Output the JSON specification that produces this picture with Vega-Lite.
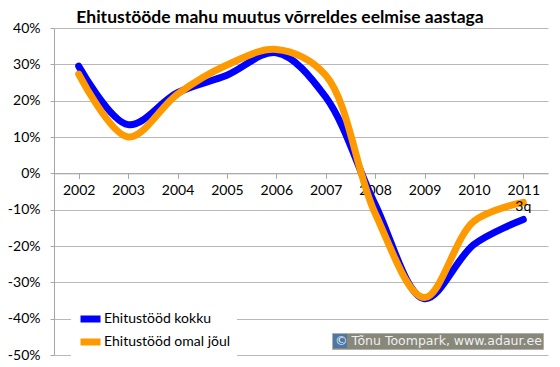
{
  "$schema": "https://vega.github.io/schema/vega-lite/v6.json",
  "width": 494,
  "height": 327,
  "autosize": "none",
  "padding": {"left": 54, "top": 28, "right": 12, "bottom": 12},
  "background": "white",
  "config": {
    "view": {"stroke": null},
    "font": "Lato"
  },
  "title": {
    "text": "Ehitustööde mahu muutus võrreldes eelmise aastaga",
    "font": "Lato",
    "fontSize": 17.5,
    "fontWeight": "bold",
    "color": "#000000",
    "anchor": "middle",
    "dx": -21,
    "dy": 9,
    "offset": 4
  },
  "layer": [
    {
      "data": {
        "values": [
          {"year": "2002", "value": 0.295, "series": "Ehitustööd kokku"},
          {"year": "2003", "value": 0.134, "series": "Ehitustööd kokku"},
          {"year": "2004", "value": 0.222, "series": "Ehitustööd kokku"},
          {"year": "2005", "value": 0.27, "series": "Ehitustööd kokku"},
          {"year": "2006", "value": 0.332, "series": "Ehitustööd kokku"},
          {"year": "2007", "value": 0.21, "series": "Ehitustööd kokku"},
          {"year": "2008", "value": -0.085, "series": "Ehitustööd kokku"},
          {"year": "2009", "value": -0.345, "series": "Ehitustööd kokku"},
          {"year": "2010", "value": -0.196, "series": "Ehitustööd kokku"},
          {"year": "2011", "value": -0.127, "series": "Ehitustööd kokku"},
          {"year": "2002", "value": 0.273, "series": "Ehitustööd omal jõul"},
          {"year": "2003", "value": 0.1, "series": "Ehitustööd omal jõul"},
          {"year": "2004", "value": 0.218, "series": "Ehitustööd omal jõul"},
          {"year": "2005", "value": 0.298, "series": "Ehitustööd omal jõul"},
          {"year": "2006", "value": 0.341, "series": "Ehitustööd omal jõul"},
          {"year": "2007", "value": 0.27, "series": "Ehitustööd omal jõul"},
          {"year": "2008", "value": -0.11, "series": "Ehitustööd omal jõul"},
          {"year": "2009", "value": -0.342, "series": "Ehitustööd omal jõul"},
          {"year": "2010", "value": -0.132, "series": "Ehitustööd omal jõul"},
          {"year": "2011", "value": -0.08, "series": "Ehitustööd omal jõul"}
        ]
      },
      "mark": {"type": "line", "interpolate": "catmull-rom", "strokeWidth": 7, "strokeCap": "round", "strokeJoin": "round"},
      "encoding": {
        "x": {
          "field": "year", "type": "ordinal",
          "scale": {"type": "point", "padding": 0.5},
          "axis": {
            "title": null,
            "offset": -181.7,
            "tickBand": "extent",
            "labelAngle": 0,
            "labelFont": "Lato",
            "labelFontSize": 14,
            "labelColor": "#000000",
            "labelPadding": 5,
            "domainColor": "#a6a6a6",
            "tickColor": "#a6a6a6",
            "tickSize": 5,
            "grid": false
          }
        },
        "y": {
          "field": "value", "type": "quantitative",
          "scale": {"domain": [-0.5, 0.4], "nice": false, "zero": false},
          "axis": {
            "title": null,
            "format": ".0%",
            "labelExpr": "replace(datum.label, '−', '-')",
            "values": [-0.5, -0.4, -0.3, -0.2, -0.1, 0, 0.1, 0.2, 0.3, 0.4],
            "tickCount": 20,
            "labelOverlap": false,
            "labelFont": "Lato",
            "labelFontSize": 14,
            "labelColor": "#000000",
            "labelPadding": 10,
            "domainColor": "#a6a6a6",
            "tickColor": "#a6a6a6",
            "tickSize": 4,
            "grid": true,
            "gridColor": "#b8b8b8",
            "gridWidth": 1
          }
        },
        "color": {
          "field": "series", "type": "nominal",
          "scale": {"domain": ["Ehitustööd kokku", "Ehitustööd omal jõul"], "range": ["#0000ff", "#ff9900"]},
          "legend": {
            "title": null,
            "orient": "none",
            "legendX": 17,
            "legendY": 275,
            "fillColor": "white",
            "padding": 6,
            "symbolType": "stroke",
            "symbolStrokeWidth": 7,
            "symbolSize": 400,
            "clipHeight": 20,
            "labelFont": "Lato",
            "labelFontSize": 14,
            "labelColor": "#000000",
            "labelOffset": 0,
            "rowPadding": 3,
            "symbolOffset": 0
          }
        }
      }
    },
    {
      "data": {"values": [{"year": "2011", "value": -0.094, "label": "3q"}]},
      "mark": {"type": "text", "font": "Lato", "fontSize": 14, "color": "#000000", "dx": 0},
      "encoding": {
        "x": {"field": "year", "type": "ordinal"},
        "y": {"field": "value", "type": "quantitative"},
        "text": {"field": "label"}
      }
    },
    {
      "data": {"values": [{"note": "© Tõnu Toompark, www.adaur.ee"}]},
      "mark": {"type": "point", "filled": true},
      "encoding": {
        "shape": {
          "field": "note", "type": "nominal",
          "scale": {"range": ["square"]},
          "legend": {
            "title": null,
            "orient": "none",
            "legendX": 278,
            "legendY": 305,
            "fillColor": "#87877a",
            "strokeColor": "#b0b0a8",
            "padding": 1,
            "symbolSize": 196,
            "symbolFillColor": "#f26a1b",
            "symbolStrokeColor": "#f26a1b",
            "symbolOpacity": 1,
            "symbolStrokeWidth": 0,
            "labelFont": "DejaVu Sans",
            "labelFontSize": 12.5,
            "labelLimit": 400,
            "labelColor": "#f0f0f0",
            "labelOffset": -12,
            "symbolOffset": 0
          }
        },
        "opacity": {"value": 0}
      }
    }
  ]
}
